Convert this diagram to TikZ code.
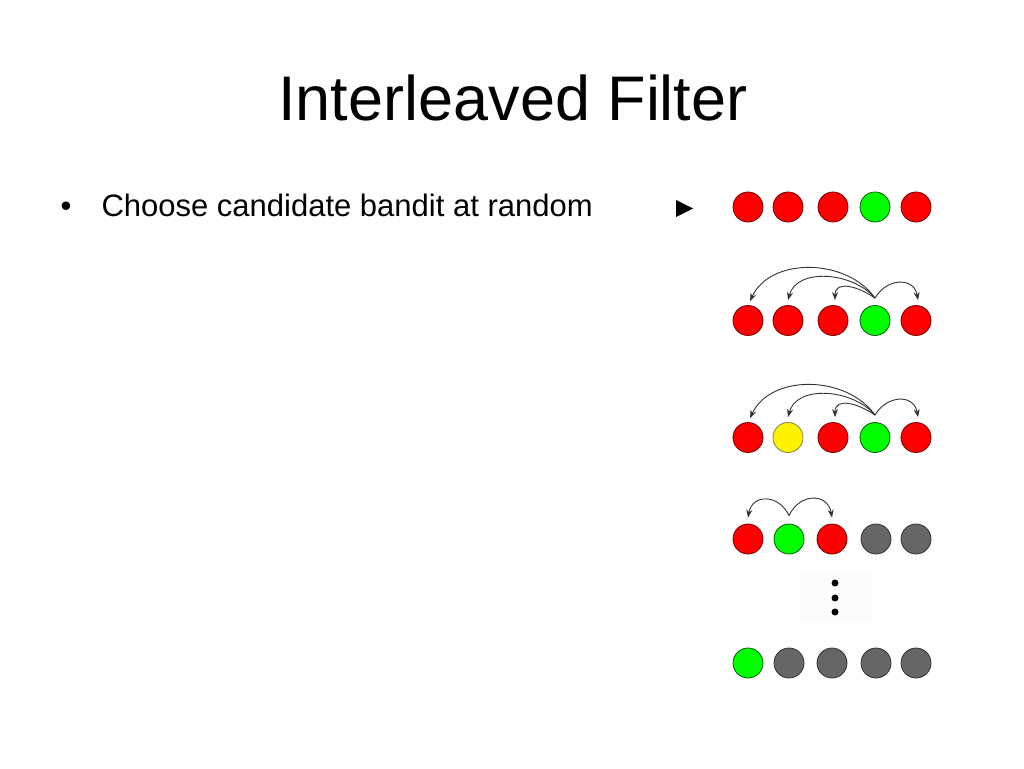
\documentclass[tikz,border=0pt]{standalone}
\usepackage{fontspec}
\setmainfont{Liberation Sans}
\usetikzlibrary{arrows.meta}

\begin{document}
\begin{tikzpicture}[
    x=1pt, y=-1pt,
    ball/.style={circle, draw, line width=0.8pt, minimum size=30pt, inner sep=0pt},
    redball/.style={ball, fill=red, draw=red!45!black},
    greenball/.style={ball, fill=green, draw=green!35!black},
    yellowball/.style={ball, fill=yellow, draw=yellow!45!black},
    grayball/.style={ball, fill=black!60, draw=black!80},
    arc/.style={draw=black!80, line width=0.9pt, -{Stealth[length=8pt,width=6pt]}},
    dot/.style={circle, fill=black, minimum size=7pt, inner sep=0pt}
]
    \fill[white] (0,0) rectangle (1024,768);
    \useasboundingbox (0,0) rectangle (1024,768);

    % title and bullet
    \node[anchor=base, font=\fontsize{63}{70}\selectfont] (title) at (513,120) {Interleaved Filter};
    \node[anchor=base, font=\fontsize{31}{36}\selectfont] (bullet) at (66,216) {•};
    \node[anchor=base west, font=\fontsize{31}{36}\selectfont] (item) at (98,216) {Choose candidate bandit at random};
    \fill (676,200) -- (693,208.5) -- (676,217) -- cycle;

    % row 1
    \node[redball] (a1) at (748,207) {};
    \node[redball] (b1) at (788,207) {};
    \node[redball] (c1) at (833,207) {};
    \node[greenball] (d1) at (875,207) {};
    \node[redball] (e1) at (916,207) {};

    % row 2
    \node[redball] (a2) at (748,320.5) {};
    \node[redball] (b2) at (788,320.5) {};
    \node[redball] (c2) at (833,320.5) {};
    \node[greenball] (d2) at (875,320.5) {};
    \node[redball] (e2) at (916,320.5) {};
    \coordinate (s2) at ([yshift=7pt]d2.north);
    \draw[arc] (s2) to[out=125, in=65] ([xshift=2pt,yshift=4pt]a2.north);
    \draw[arc] (s2) to[out=130, in=75] ([yshift=5pt]b2.north);
    \draw[arc] (s2) to[out=145, in=90, looseness=1.3] ([xshift=2pt,yshift=5pt]c2.north);
    \draw[arc] (s2) to[out=60, in=100, looseness=1.4] ([xshift=2pt,yshift=5pt]e2.north);

    % row 3
    \node[redball] (a3) at (748,437.5) {};
    \node[yellowball] (b3) at (788,437.5) {};
    \node[redball] (c3) at (833,437.5) {};
    \node[greenball] (d3) at (875,437.5) {};
    \node[redball] (e3) at (916,437.5) {};
    \coordinate (s3) at ([yshift=7pt]d3.north);
    \draw[arc] (s3) to[out=125, in=65] ([xshift=2pt,yshift=4pt]a3.north);
    \draw[arc] (s3) to[out=130, in=75] ([yshift=5pt]b3.north);
    \draw[arc] (s3) to[out=145, in=90, looseness=1.3] ([xshift=2pt,yshift=5pt]c3.north);
    \draw[arc] (s3) to[out=60, in=100, looseness=1.4] ([xshift=2pt,yshift=5pt]e3.north);

    % row 4
    \node[redball] (a4) at (748,539) {};
    \node[greenball] (b4) at (789,539) {};
    \node[redball] (c4) at (832,539) {};
    \node[grayball] (d4) at (876,539) {};
    \node[grayball] (e4) at (916,539) {};
    \coordinate (s4) at ([yshift=8pt]b4.north);
    \draw[arc] (s4) to[out=115, in=80, looseness=1.5] ([yshift=6pt]a4.north);
    \draw[arc] (s4) to[out=65, in=100, looseness=1.5] ([yshift=6pt]c4.north);

    % dots
    \fill[black!1] (800,573) rectangle (872,622);
    \node[dot] (p1) at (835,583) {};
    \node[dot] (p2) at (835,598) {};
    \node[dot] (p3) at (835,612) {};

    % row 5
    \node[greenball] (a5) at (748,663) {};
    \node[grayball] (b5) at (789,663) {};
    \node[grayball] (c5) at (832,663) {};
    \node[grayball] (d5) at (876,663) {};
    \node[grayball] (e5) at (916,663) {};
\end{tikzpicture}
\end{document}
